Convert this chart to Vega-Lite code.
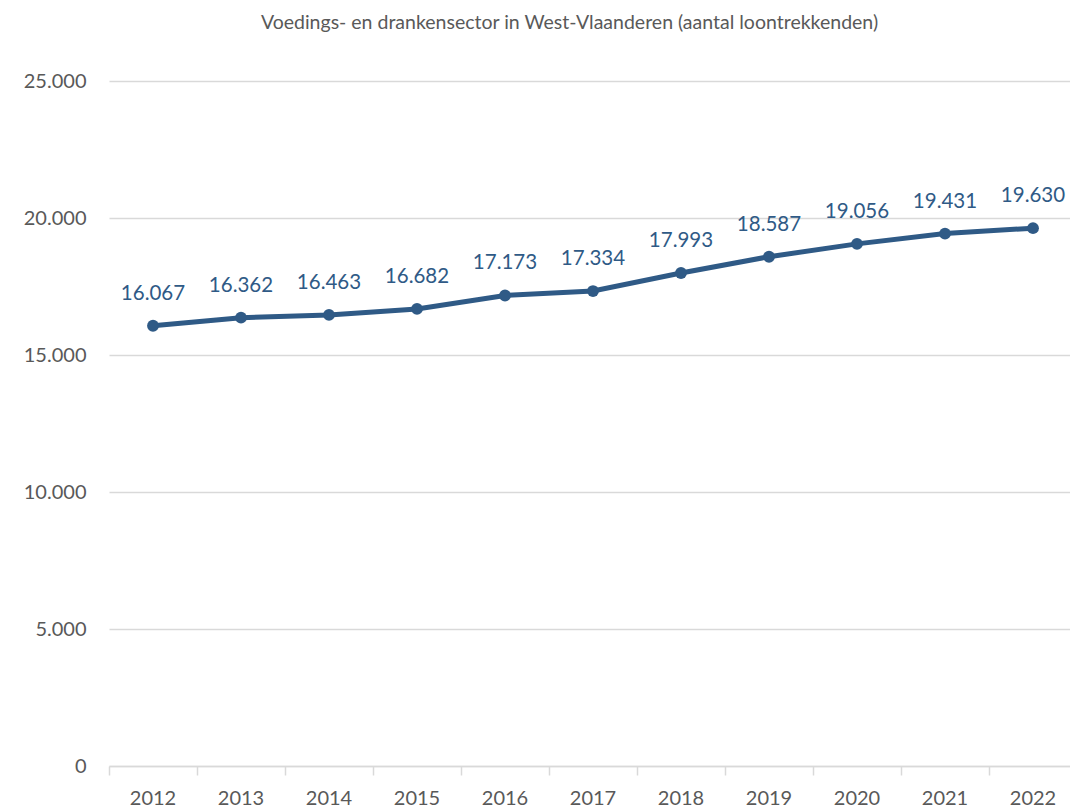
{
  "$schema": "https://vega.github.io/schema/vega-lite/v6.json",
  "width": 961,
  "height": 685,
  "autosize": {"type": "none"},
  "padding": {"left": 109, "top": 81, "right": 0, "bottom": 43},
  "background": "white",
  "title": {
    "text": "Voedings- en drankensector in West-Vlaanderen (aantal loontrekkenden)",
    "font": "Lato",
    "fontSize": 19.5,
    "fontWeight": "normal",
    "color": "#595959",
    "anchor": "middle",
    "offset": 38,
    "dx": -20
  },
  "data": {
    "values": [
      {"jaar": "2012", "aantal": 16067},
      {"jaar": "2013", "aantal": 16362},
      {"jaar": "2014", "aantal": 16463},
      {"jaar": "2015", "aantal": 16682},
      {"jaar": "2016", "aantal": 17173},
      {"jaar": "2017", "aantal": 17334},
      {"jaar": "2018", "aantal": 17993},
      {"jaar": "2019", "aantal": 18587},
      {"jaar": "2020", "aantal": 19056},
      {"jaar": "2021", "aantal": 19431},
      {"jaar": "2022", "aantal": 19630}
    ]
  },
  "encoding": {
    "x": {
      "field": "jaar",
      "type": "ordinal",
      "scale": {"type": "band", "paddingInner": 0, "paddingOuter": 0, "range": [0, 968]},
      "axis": {
        "title": null,
        "labelAngle": 0,
        "bandPosition": 0,
        "tickSize": 9,
        "tickColor": "#d9d9d9",
        "tickWidth": 1.5,
        "domainColor": "#d9d9d9",
        "domainWidth": 1.5,
        "labelPadding": 13,
        "labelFont": "Lato",
        "labelFontSize": 20,
        "labelColor": "#595959",
        "grid": false
      }
    },
    "y": {
      "field": "aantal",
      "type": "quantitative",
      "scale": {"domain": [0, 25000]},
      "axis": {
        "title": null,
        "values": [0, 5000, 10000, 15000, 20000, 25000],
        "labelExpr": "format(datum.value, ',')",
        "domain": false,
        "ticks": false,
        "grid": true,
        "gridColor": "#d9d9d9",
        "gridWidth": 1.5,
        "labelPadding": 23,
        "labelFont": "Lato",
        "labelFontSize": 20,
        "labelColor": "#595959"
      }
    }
  },
  "layer": [
    {
      "mark": {"type": "line", "color": "#2f5a86", "strokeWidth": 5, "point": {"filled": true, "size": 140, "color": "#2f5a86"}}
    },
    {
      "mark": {"type": "text", "dy": -32, "baseline": "middle", "font": "Lato", "fontSize": 20.5, "color": "#2f5a86"},
      "encoding": {"text": {"field": "aantal", "type": "quantitative", "format": ","}}
    }
  ],
  "config": {
    "view": {"stroke": null},
    "locale": {"number": {"decimal": ",", "thousands": ".", "grouping": [3], "currency": ["€", ""]}}
  }
}
